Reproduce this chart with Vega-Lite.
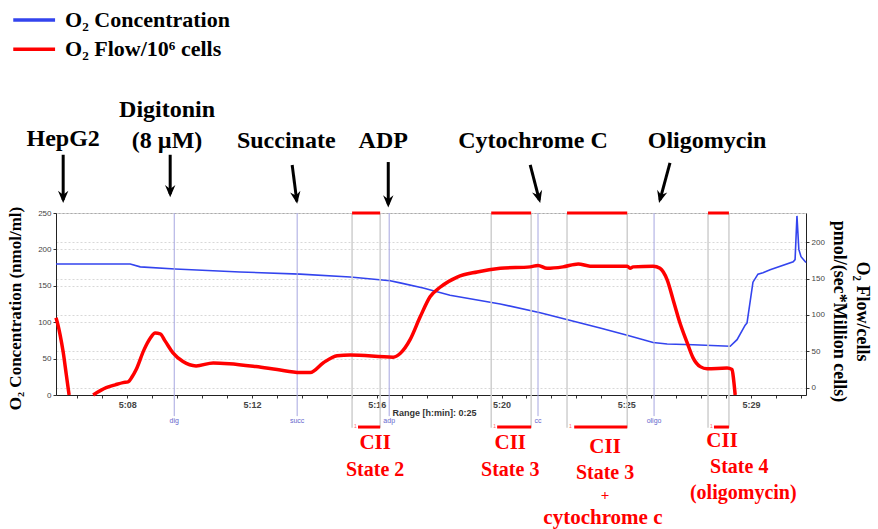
{
  "$schema": "https://vega.github.io/schema/vega-lite/v6.json",
  "width": 750,
  "height": 182,
  "autosize": {"type": "none"},
  "padding": {"left": 56, "top": 213, "right": 72, "bottom": 134},
  "background": "white",
  "config": {"view": {"stroke": "#aaa", "strokeWidth": 1}, "font": "Liberation Sans"},
  "datasets": {
    "blue": [
      {"t": 5.72, "o2": 180}, {"t": 8.10, "o2": 180}, {"t": 8.42, "o2": 176}, {"t": 9.54, "o2": 173},
      {"t": 11.62, "o2": 169}, {"t": 13.54, "o2": 166}, {"t": 15.15, "o2": 162}, {"t": 16.43, "o2": 157},
      {"t": 16.75, "o2": 154}, {"t": 17.49, "o2": 147}, {"t": 18.35, "o2": 137}, {"t": 19.96, "o2": 125},
      {"t": 21.24, "o2": 113}, {"t": 23.16, "o2": 92}, {"t": 24.03, "o2": 82}, {"t": 24.86, "o2": 72},
      {"t": 25.31, "o2": 70}, {"t": 26.14, "o2": 69}, {"t": 27.33, "o2": 67}, {"t": 27.55, "o2": 76},
      {"t": 27.81, "o2": 96}, {"t": 27.87, "o2": 99}, {"t": 28.06, "o2": 155}, {"t": 28.22, "o2": 166},
      {"t": 28.38, "o2": 168}, {"t": 28.61, "o2": 172}, {"t": 29.35, "o2": 183}, {"t": 29.41, "o2": 186},
      {"t": 29.47, "o2": 246}, {"t": 29.53, "o2": 200}, {"t": 29.60, "o2": 190}, {"t": 29.76, "o2": 182}
    ],
    "flow": [
      {"t": 5.72, "flow": 96, "seg": 1}, {"t": 5.79, "flow": 85, "seg": 1}, {"t": 5.85, "flow": 73, "seg": 1},
      {"t": 5.95, "flow": 49, "seg": 1}, {"t": 6.05, "flow": 18, "seg": 1}, {"t": 6.14, "flow": -10, "seg": 1},
      {"t": 6.91, "flow": -10, "seg": 2}, {"t": 7.33, "flow": 0, "seg": 2}, {"t": 7.62, "flow": 4, "seg": 2},
      {"t": 7.87, "flow": 7, "seg": 2}, {"t": 8.03, "flow": 8, "seg": 2}, {"t": 8.16, "flow": 15, "seg": 2},
      {"t": 8.29, "flow": 25, "seg": 2}, {"t": 8.54, "flow": 52, "seg": 2}, {"t": 8.74, "flow": 68, "seg": 2},
      {"t": 8.90, "flow": 75, "seg": 2}, {"t": 9.06, "flow": 74, "seg": 2}, {"t": 9.22, "flow": 64, "seg": 2},
      {"t": 9.47, "flow": 48, "seg": 2}, {"t": 9.79, "flow": 36, "seg": 2}, {"t": 10.21, "flow": 30, "seg": 2},
      {"t": 10.76, "flow": 34, "seg": 2}, {"t": 11.27, "flow": 33, "seg": 2}, {"t": 12.13, "flow": 29, "seg": 2},
      {"t": 12.81, "flow": 25, "seg": 2}, {"t": 13.54, "flow": 21, "seg": 2}, {"t": 13.87, "flow": 21, "seg": 2},
      {"t": 14.28, "flow": 34, "seg": 2}, {"t": 14.73, "flow": 44, "seg": 2}, {"t": 15.15, "flow": 45, "seg": 2},
      {"t": 16.53, "flow": 42, "seg": 2}, {"t": 16.75, "flow": 47, "seg": 2}, {"t": 17.07, "flow": 66, "seg": 2},
      {"t": 17.39, "flow": 97, "seg": 2}, {"t": 17.71, "flow": 125, "seg": 2}, {"t": 18.03, "flow": 138, "seg": 2},
      {"t": 18.58, "flow": 152, "seg": 2}, {"t": 19.22, "flow": 159, "seg": 2}, {"t": 19.96, "flow": 164, "seg": 2},
      {"t": 20.92, "flow": 166, "seg": 2}, {"t": 21.17, "flow": 168, "seg": 2}, {"t": 21.46, "flow": 164, "seg": 2},
      {"t": 21.97, "flow": 166, "seg": 2}, {"t": 22.46, "flow": 170, "seg": 2}, {"t": 22.84, "flow": 167, "seg": 2},
      {"t": 24.03, "flow": 167, "seg": 2}, {"t": 24.12, "flow": 164, "seg": 2}, {"t": 24.22, "flow": 166, "seg": 2},
      {"t": 24.86, "flow": 167, "seg": 2}, {"t": 25.08, "flow": 164, "seg": 2}, {"t": 25.31, "flow": 148, "seg": 2},
      {"t": 25.50, "flow": 121, "seg": 2}, {"t": 25.72, "flow": 89, "seg": 2}, {"t": 25.95, "flow": 62, "seg": 2},
      {"t": 26.14, "flow": 41, "seg": 2}, {"t": 26.37, "flow": 29, "seg": 2}, {"t": 26.59, "flow": 26, "seg": 2},
      {"t": 27.23, "flow": 27, "seg": 2}, {"t": 27.39, "flow": 25, "seg": 2}, {"t": 27.44, "flow": 11, "seg": 2},
      {"t": 27.49, "flow": -10, "seg": 2}
    ],
    "events": [
      {"t": 9.51, "label": "dig"}, {"t": 13.45, "label": "succ"}, {"t": 16.40, "label": "adp"},
      {"t": 21.17, "label": "cc"}, {"t": 24.89, "label": "oligo"}
    ],
    "marks": [
      {"t": 15.21}, {"t": 16.11}, {"t": 19.67}, {"t": 20.95}, {"t": 22.10}, {"t": 24.03}, {"t": 26.62}, {"t": 27.29}
    ],
    "periods": [
      {"start": 15.21, "lo": 15.40, "end": 16.11, "mark": "1"},
      {"start": 19.67, "lo": 19.86, "end": 20.95, "mark": "1"},
      {"start": 22.10, "lo": 22.33, "end": 24.03, "mark": "1"},
      {"start": 26.62, "lo": 26.81, "end": 27.29, "mark": "1"}
    ],
    "arrows": [
      {"name": "HepG2", "x1": 5.95, "y1": 330, "x2": 5.95, "y2": 268, "hx": 5.95, "hy": 272, "ang": 0},
      {"name": "Digitonin", "x1": 9.38, "y1": 330, "x2": 9.38, "y2": 276, "hx": 9.38, "hy": 280, "ang": 0},
      {"name": "Succinate", "x1": 13.29, "y1": 316, "x2": 13.44, "y2": 266, "hx": 13.42, "hy": 271, "ang": -9},
      {"name": "ADP", "x1": 16.37, "y1": 320, "x2": 16.37, "y2": 262, "hx": 16.37, "hy": 266, "ang": 0},
      {"name": "Cytochrome C", "x1": 20.92, "y1": 316, "x2": 21.21, "y2": 268, "hx": 21.19, "hy": 272, "ang": -15},
      {"name": "Oligomycin", "x1": 25.40, "y1": 319, "x2": 25.08, "y2": 268, "hx": 25.10, "hy": 272, "ang": 15}
    ],
    "notes": [
      {"t": 5.95, "y": 352, "label": "HepG2"},
      {"t": 9.28, "y": 391, "label": "Digitonin"},
      {"t": 9.28, "y": 349, "label": "(8 µM)"},
      {"t": 13.10, "y": 349, "label": "Succinate"},
      {"t": 16.21, "y": 349, "label": "ADP"},
      {"t": 21.01, "y": 349, "label": "Cytochrome C"},
      {"t": 26.59, "y": 349, "label": "Oligomycin"}
    ],
    "cii": [
      {"t": 15.95, "y": -66, "label": "CII"},
      {"t": 20.28, "y": -66, "label": "CII"},
      {"t": 23.32, "y": -71, "label": "CII"},
      {"t": 27.07, "y": -63, "label": "CII"}
    ],
    "states": [
      {"t": 15.95, "y": -103, "label": "State 2"},
      {"t": 20.28, "y": -103, "label": "State 3"},
      {"t": 23.32, "y": -107, "label": "State 3"},
      {"t": 27.62, "y": -99, "label": "State 4"},
      {"t": 27.75, "y": -135, "label": "(oligomycin)"}
    ],
    "cytc": [{"t": 23.25, "y": -169, "label": "cytochrome c"}],
    "plus": [{"t": 23.32, "y": -138, "label": "+"}],
    "legendLines": [
      {"x1": 4.35, "x2": 5.69, "y": 515, "series": "O₂ Concentration"},
      {"x1": 4.35, "x2": 5.69, "y": 475, "series": "O₂ Flow/10⁶ cells"}
    ]
  },
  "layer": [
    {
      "data": {"name": "blue"},
      "mark": {"type": "line", "color": "#3344ee", "strokeWidth": 1.6},
      "encoding": {
        "x": {
          "field": "t", "type": "quantitative",
          "scale": {"domain": [5.72, 29.76], "nice": false, "zero": false},
          "axis": {
            "orient": "bottom",
            "values": [6.4, 7.2, 8, 8.8, 9.6, 10.4, 11.2, 12, 12.8, 13.6, 14.4, 15.2, 16, 16.8, 17.6, 18.4, 19.2, 20, 20.8, 21.6, 22.4, 23.2, 24, 24.8, 25.6, 26.4, 27.2, 28, 28.8, 29.6],
            "labelExpr": "datum.value == 8 ? '5:08' : datum.value == 12 ? '5:12' : datum.value == 16 ? '5:16' : datum.value == 20 ? '5:20' : datum.value == 24 ? '5:25' : datum.value == 28 ? '5:29' : ''",
            "grid": false,
            "tickSize": 3,
            "tickColor": "#333",
            "domainColor": "#222",
            "labelFont": "Liberation Sans",
            "labelFontSize": 9,
            "labelFontWeight": "bold",
            "labelColor": "#444",
            "labelPadding": 2,
            "labelOverlap": false,
            "title": "Range [h:min]: 0:25",
            "titleFont": "Liberation Sans",
            "titleFontSize": 9,
            "titleFontWeight": "bold",
            "titleColor": "#333",
            "titleX": 336,
            "titleY": 17,
            "titleAlign": "left",
            "titleBaseline": "middle"
          }
        },
        "y": {
          "field": "o2", "type": "quantitative",
          "scale": {"domain": [0, 250], "nice": false, "zero": false},
          "axis": {
            "orient": "left",
            "values": [0, 50, 100, 150, 200, 250],
            "grid": true,
            "gridDash": [2, 2],
            "gridColor": "#d8d8d8",
            "tickSize": 3,
            "tickColor": "#333",
            "domainColor": "#222",
            "labelFont": "Liberation Sans",
            "labelFontSize": 8,
            "labelColor": "#444",
            "labelPadding": 2,
            "title": "O₂ Concentration (nmol/ml)",
            "titleFont": "Liberation Serif",
            "titleFontSize": 17,
            "titleFontWeight": "bold",
            "titleColor": "#000",
            "titleAngle": 270,
            "titleX": -41,
            "titleY": 95,
            "titleAlign": "center",
            "titleBaseline": "middle"
          }
        }
      }
    },
    {
      "data": {"name": "marks"},
      "mark": {"type": "rule", "color": "#cfcfcf", "strokeWidth": 1.5},
      "encoding": {
        "x": {"field": "t", "type": "quantitative", "scale": {"domain": [5.72, 29.76], "nice": false, "zero": false}, "axis": null},
        "y": {"datum": 250, "type": "quantitative", "scale": {"domain": [0, 250], "nice": false, "zero": false}, "axis": null},
        "y2": {"datum": -45}
      }
    },
    {
      "data": {"name": "events"},
      "mark": {"type": "rule", "color": "#a6a6e0", "strokeWidth": 1},
      "encoding": {
        "x": {"field": "t", "type": "quantitative", "scale": {"domain": [5.72, 29.76], "nice": false, "zero": false}, "axis": null},
        "y": {"datum": 250, "type": "quantitative", "scale": {"domain": [0, 250], "nice": false, "zero": false}, "axis": null},
        "y2": {"datum": -29}
      }
    },
    {
      "data": {"name": "events"},
      "mark": {"type": "text", "color": "#6666cc", "fontSize": 7, "baseline": "middle", "align": "center"},
      "encoding": {
        "x": {"field": "t", "type": "quantitative", "scale": {"domain": [5.72, 29.76], "nice": false, "zero": false}, "axis": null},
        "y": {"datum": -36, "type": "quantitative", "scale": {"domain": [0, 250], "nice": false, "zero": false}, "axis": null},
        "text": {"field": "label"}
      }
    },
    {
      "data": {"name": "periods"},
      "mark": {"type": "rule", "color": "#ff0000", "strokeWidth": 3},
      "encoding": {
        "x": {"field": "start", "type": "quantitative", "scale": {"domain": [5.72, 29.76], "nice": false, "zero": false}, "axis": null},
        "x2": {"field": "end"},
        "y": {"datum": 250, "type": "quantitative", "scale": {"domain": [0, 250], "nice": false, "zero": false}, "axis": null}
      }
    },
    {
      "data": {"name": "periods"},
      "mark": {"type": "rule", "color": "#ff0000", "strokeWidth": 3},
      "encoding": {
        "x": {"field": "lo", "type": "quantitative", "scale": {"domain": [5.72, 29.76], "nice": false, "zero": false}, "axis": null},
        "x2": {"field": "end"},
        "y": {"datum": -44, "type": "quantitative", "scale": {"domain": [0, 250], "nice": false, "zero": false}, "axis": null}
      }
    },
    {
      "data": {"name": "periods"},
      "mark": {"type": "text", "color": "#ff6666", "fontSize": 5, "align": "left", "baseline": "middle", "dx": 2},
      "encoding": {
        "x": {"field": "start", "type": "quantitative", "scale": {"domain": [5.72, 29.76], "nice": false, "zero": false}, "axis": null},
        "y": {"datum": -42, "type": "quantitative", "scale": {"domain": [0, 250], "nice": false, "zero": false}, "axis": null},
        "text": {"field": "mark"}
      }
    },
    {
      "data": {"name": "arrows"},
      "mark": {"type": "rule", "color": "#000", "strokeWidth": 3},
      "encoding": {
        "x": {"field": "x1", "type": "quantitative", "scale": {"domain": [5.72, 29.76], "nice": false, "zero": false}, "axis": null},
        "x2": {"field": "x2"},
        "y": {"field": "y1", "type": "quantitative", "scale": {"domain": [0, 250], "nice": false, "zero": false}, "axis": null},
        "y2": {"field": "y2"}
      }
    },
    {
      "data": {"name": "arrows"},
      "mark": {"type": "point", "shape": "M-0.85,-1L0,1L0.85,-1L0,-0.35Z", "filled": true, "color": "#000", "size": 150, "opacity": 1},
      "encoding": {
        "x": {"field": "hx", "type": "quantitative", "scale": {"domain": [5.72, 29.76], "nice": false, "zero": false}, "axis": null},
        "y": {"field": "hy", "type": "quantitative", "scale": {"domain": [0, 250], "nice": false, "zero": false}, "axis": null},
        "angle": {"field": "ang", "type": "quantitative", "scale": null}
      }
    },
    {
      "data": {"name": "notes"},
      "mark": {"type": "text", "font": "Liberation Serif", "fontWeight": "bold", "fontSize": 24, "color": "#000", "align": "center", "baseline": "middle"},
      "encoding": {
        "x": {"field": "t", "type": "quantitative", "scale": {"domain": [5.72, 29.76], "nice": false, "zero": false}, "axis": null},
        "y": {"field": "y", "type": "quantitative", "scale": {"domain": [0, 250], "nice": false, "zero": false}, "axis": null},
        "text": {"field": "label"}
      }
    },
    {
      "data": {"name": "legendLines"},
      "mark": {"type": "rule", "strokeWidth": 3.5},
      "encoding": {
        "x": {"field": "x1", "type": "quantitative", "scale": {"domain": [5.72, 29.76], "nice": false, "zero": false}, "axis": null},
        "x2": {"field": "x2"},
        "y": {"field": "y", "type": "quantitative", "scale": {"domain": [0, 250], "nice": false, "zero": false}, "axis": null},
        "color": {"field": "series", "type": "nominal", "scale": {"domain": ["O₂ Concentration", "O₂ Flow/10⁶ cells"], "range": ["#3344ee", "#ff0000"]}, "legend": null}
      }
    },
    {
      "data": {"name": "legendLines"},
      "mark": {"type": "text", "font": "Liberation Serif", "fontWeight": "bold", "fontSize": 22, "color": "#000", "align": "left", "baseline": "middle"},
      "encoding": {
        "x": {"datum": 6.01, "type": "quantitative", "scale": {"domain": [5.72, 29.76], "nice": false, "zero": false}, "axis": null},
        "y": {"field": "y", "type": "quantitative", "scale": {"domain": [0, 250], "nice": false, "zero": false}, "axis": null},
        "text": {"field": "series"}
      }
    },
    {
      "data": {"name": "cii"},
      "mark": {"type": "text", "font": "Liberation Serif", "fontWeight": "bold", "fontSize": 21, "color": "#ff0000", "align": "center", "baseline": "middle"},
      "encoding": {
        "x": {"field": "t", "type": "quantitative", "scale": {"domain": [5.72, 29.76], "nice": false, "zero": false}, "axis": null},
        "y": {"field": "y", "type": "quantitative", "scale": {"domain": [0, 250], "nice": false, "zero": false}, "axis": null},
        "text": {"field": "label"}
      }
    },
    {
      "data": {"name": "states"},
      "mark": {"type": "text", "font": "Liberation Serif", "fontWeight": "bold", "fontSize": 20, "color": "#ff0000", "align": "center", "baseline": "middle"},
      "encoding": {
        "x": {"field": "t", "type": "quantitative", "scale": {"domain": [5.72, 29.76], "nice": false, "zero": false}, "axis": null},
        "y": {"field": "y", "type": "quantitative", "scale": {"domain": [0, 250], "nice": false, "zero": false}, "axis": null},
        "text": {"field": "label"}
      }
    },
    {
      "data": {"name": "cytc"},
      "mark": {"type": "text", "font": "Liberation Serif", "fontWeight": "bold", "fontSize": 21, "color": "#ff0000", "align": "center", "baseline": "middle"},
      "encoding": {
        "x": {"field": "t", "type": "quantitative", "scale": {"domain": [5.72, 29.76], "nice": false, "zero": false}, "axis": null},
        "y": {"field": "y", "type": "quantitative", "scale": {"domain": [0, 250], "nice": false, "zero": false}, "axis": null},
        "text": {"field": "label"}
      }
    },
    {
      "data": {"name": "plus"},
      "mark": {"type": "text", "font": "Liberation Serif", "fontWeight": "bold", "fontSize": 15, "color": "#ff0000", "align": "center", "baseline": "middle"},
      "encoding": {
        "x": {"field": "t", "type": "quantitative", "scale": {"domain": [5.72, 29.76], "nice": false, "zero": false}, "axis": null},
        "y": {"field": "y", "type": "quantitative", "scale": {"domain": [0, 250], "nice": false, "zero": false}, "axis": null},
        "text": {"field": "label"}
      }
    },
    {
      "data": {"name": "flow"},
      "mark": {"type": "line", "color": "#ff0000", "strokeWidth": 3.5, "interpolate": "monotone"},
      "encoding": {
        "x": {"field": "t", "type": "quantitative", "scale": {"domain": [5.72, 29.76], "nice": false, "zero": false}, "axis": null},
        "y": {
          "field": "flow", "type": "quantitative",
          "scale": {"domain": [-10, 240], "nice": false, "zero": false},
          "axis": {
            "orient": "right",
            "values": [0, 50, 100, 150, 200],
            "grid": true,
            "gridDash": [2, 2],
            "gridColor": "#d8d8d8",
            "tickSize": 3,
            "tickColor": "#333",
            "domainColor": "#222",
            "labelFont": "Liberation Sans",
            "labelFontSize": 8,
            "labelColor": "#444",
            "labelPadding": 2,
            "title": ["O₂ Flow/cells", "pmol/(sec*Million cells)"],
            "titleFont": "Liberation Serif",
            "titleFontSize": 18,
            "titleFontWeight": "bold",
            "titleColor": "#000",
            "titleAngle": 90,
            "titleLineHeight": 23,
            "titleX": 55,
            "titleY": 98,
            "titleAlign": "center",
            "titleBaseline": "middle"
          }
        },
        "detail": {"field": "seg", "type": "nominal"}
      }
    }
  ],
  "resolve": {"scale": {"y": "independent"}, "axis": {"x": "independent", "y": "independent"}}
}
